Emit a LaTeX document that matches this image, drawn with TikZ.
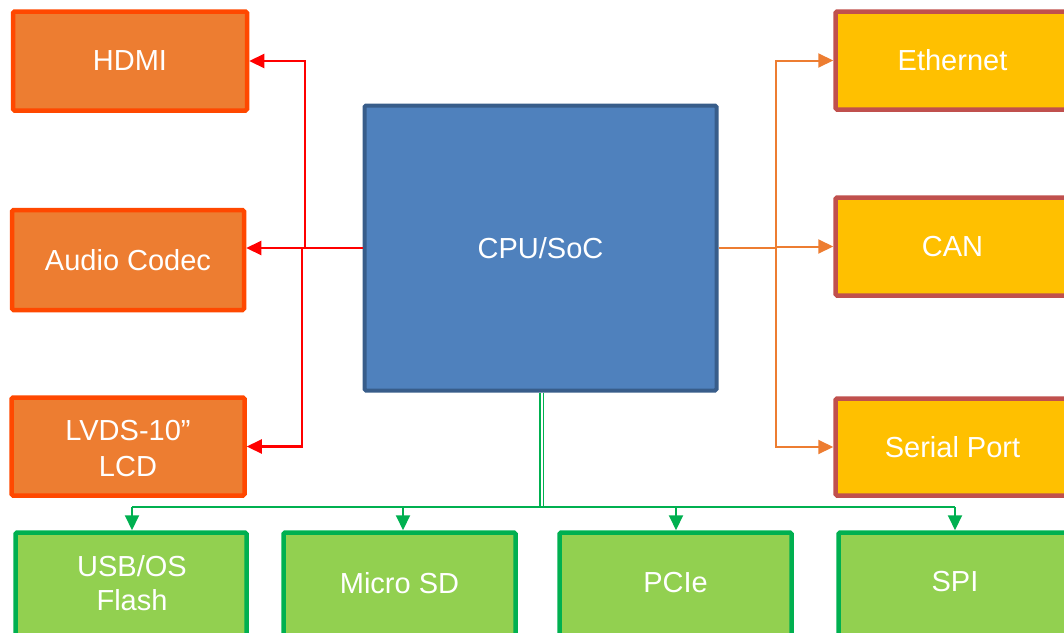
\documentclass[tikz,border=0pt]{standalone}
\usepackage{fontspec}
\setmainfont{Liberation Sans}
\usetikzlibrary{arrows.meta}
\definecolor{ofill}{HTML}{ED7D31}
\definecolor{oborder}{HTML}{FF4800}
\definecolor{bfill}{HTML}{4F81BD}
\definecolor{bborder}{HTML}{385D8A}
\definecolor{yfill}{HTML}{FFC000}
\definecolor{yborder}{HTML}{C0504D}
\definecolor{gfill}{HTML}{92D050}
\definecolor{gborder}{HTML}{00B050}
\definecolor{redline}{HTML}{FF0000}
\tikzset{
  boxtext/.style={text=white, align=center, font=\fontsize{29}{36}\selectfont, inner sep=0pt},
  box/.style={rectangle, rounded corners=1.5pt, line width=4.5pt, boxtext},
  obox/.style={box, fill=ofill, draw=oborder},
  cpubox/.style={box, fill=bfill, draw=bborder, line width=4pt},
  ybox/.style={box, fill=yfill, draw=yborder},
  gbox/.style={box, fill=gfill, draw=gborder},
  tip/.style={-{Triangle[length=15pt,width=14pt]}},
  rline/.style={draw=redline, line width=2.2pt},
  oline/.style={draw=ofill, line width=2pt},
  gline/.style={draw=gborder, line width=2pt},
}
\begin{document}
\begin{tikzpicture}[x=1pt, y=-1pt]
\useasboundingbox (0,0) rectangle (1064,632);
\clip (0,0) rectangle (1064,632);
% left boxes
\node[obox, minimum width=234, minimum height=99] (hdmi) at (130,61) {HDMI};
\node[obox, minimum width=232, minimum height=100] (audio) at (128,260) {Audio Codec};
\node[obox, minimum width=233, minimum height=98] (lvds) at (128,446.5) {};
\node[boxtext] (lvdst) at ([yshift=-2.5pt]lvds.center) {LVDS-10”\\LCD};
% cpu
\node[cpubox, minimum width=352, minimum height=285] (cpu) at (540.5,248) {CPU/SoC};
% right boxes
\node[ybox, minimum width=240, minimum height=98] (eth) at (955.5,60.5) {\hspace*{-6pt}Ethernet};
\node[ybox, minimum width=240, minimum height=98] (can) at (955.5,246.5) {\hspace*{-6pt}CAN};
\node[ybox, minimum width=240, minimum height=97] (serial) at (955.5,447) {\hspace*{-6pt}Serial Port};
% bottom boxes
\node[gbox, minimum width=231, minimum height=106] (usb) at (131,585.5) {};
\node[gbox, minimum width=232, minimum height=106] (sd) at (399.5,585.5) {};
\node[gbox, minimum width=232, minimum height=106] (pcie) at (675.5,585.5) {};
\node[gbox, minimum width=233, minimum height=106] (spi) at (955,585.5) {};
\node[boxtext, font=\fontsize{29}{34}\selectfont] (usbt) at ([xshift=1pt,yshift=2pt]usb.center) {USB/OS\\Flash};
\node[boxtext] (sdt) at ([yshift=2.5pt]sd.center) {Micro SD};
\node[boxtext] (pciet) at ([yshift=2.5pt]pcie.center) {PCIe};
\node[boxtext] (spit) at ([yshift=4pt]spi.center) {SPI};
% red connectors
\coordinate (rj) at (305,248);
\coordinate (rj2) at (302,248);
\draw[rline] (cpu.west) -- (rj2);
\draw[rline, tip] (rj) |- (hdmi.east);
\draw[rline, tip] (rj) -- (audio.east |- rj);
\draw[rline, tip] (rj2) |- (lvds.east);
% orange connectors
\coordinate (oj) at (776,248);
\draw[oline] (cpu.east) -- (oj);
\draw[oline, tip] (oj) |- (eth.west);
\draw[oline, tip] (oj |- can.west) -- (can.west);
\draw[oline, tip] (oj) |- (serial.west);
% green connectors
\coordinate (gj) at (541.5,507);
\coordinate (gl) at (132,507);
\coordinate (gr) at (955,507);
\draw[draw=gborder, line width=1.8pt, double=white, double distance=2pt] ([xshift=1pt]cpu.south) -- (gj);
\draw[gline] (gl) -- (gr);
\draw[gline, tip] (gl) -- (usb.north -| gl);
\draw[gline, tip] (403,507) coordinate (g2) -- (sd.north -| g2);
\draw[gline, tip] (676,507) coordinate (g3) -- (pcie.north -| g3);
\draw[gline, tip] (gr) -- (spi.north -| gr);
\end{tikzpicture}
\end{document}
